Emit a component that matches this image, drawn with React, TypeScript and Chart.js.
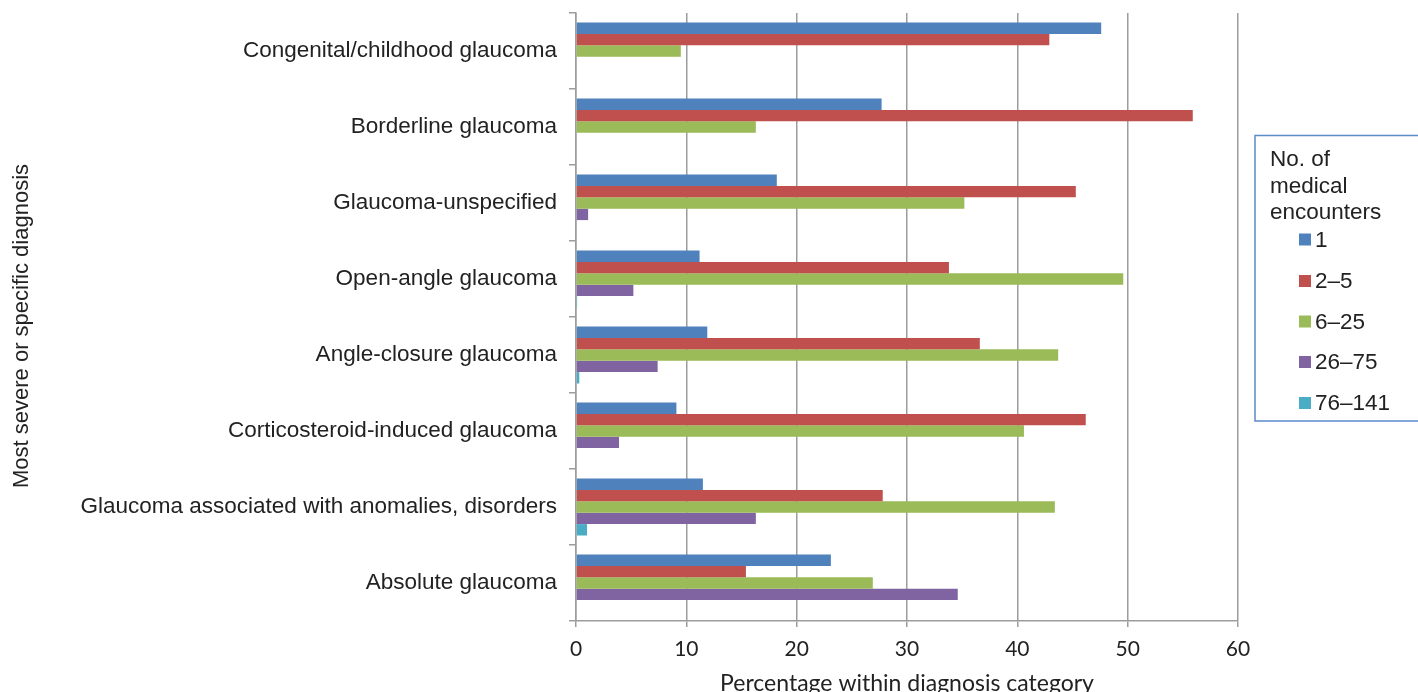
import { useEffect, useRef } from "react";
import { Chart, registerables } from "chart.js";

Chart.register(...registerables);

// Diagnosis categories, listed top to bottom
const diagnoses = [
  "Congenital/childhood glaucoma",
  "Borderline glaucoma",
  "Glaucoma-unspecified",
  "Open-angle glaucoma",
  "Angle-closure glaucoma",
  "Corticosteroid-induced glaucoma",
  "Glaucoma associated with anomalies, disorders",
  "Absolute glaucoma",
];

// Number-of-encounters groups (series)
const encounterGroups = ["1", "2–5", "6–25", "26–75", "76–141"];

// Percentage within diagnosis category, per encounter group
const encounters1 = [47.6, 27.7, 18.2, 11.2, 11.9, 9.1, 11.5, 23.1];
const encounters2to5 = [42.9, 55.9, 45.3, 33.8, 36.6, 46.2, 27.8, 15.4];
const encounters6to25 = [9.5, 16.3, 35.2, 49.6, 43.7, 40.6, 43.4, 26.9];
const encounters26to75 = [0, 0, 1.1, 5.2, 7.4, 3.9, 16.3, 34.6];
const encounters76to141 = [0, 0, 0, 0.1, 0.3, 0, 1.0, 0];

const xTicks = [0, 10, 20, 30, 40, 50, 60];

const seriesColors = ["#4F81BD", "#C0504D", "#9BBB59", "#8064A2", "#4BACC6"];

const TEXT = "#222222";
const GRID = "#9c9c9c";
const SANS = "'Liberation Sans', Arial, sans-serif";
const AXIS_FONT = "Lato, 'Open Sans', sans-serif";
const Y_TITLE = "Most severe or specific diagnosis";

// Rotated y-axis title plus a boxed legend with a three-line title
const sideAnnotations = {
  id: "sideAnnotations",
  afterDraw(chart: any) {
    const ctx = chart.ctx as CanvasRenderingContext2D;
    ctx.save();

    // y-axis title
    ctx.save();
    ctx.translate(22, 326);
    ctx.rotate(-Math.PI / 2);
    ctx.fillStyle = TEXT;
    ctx.font = `22px ${SANS}`;
    ctx.textAlign = "center";
    ctx.textBaseline = "middle";
    ctx.fillText(Y_TITLE, 0, 0);
    ctx.restore();

    // legend box
    ctx.strokeStyle = "#5B8BC9";
    ctx.lineWidth = 1.5;
    ctx.strokeRect(1255, 135.5, 200, 285.5);

    ctx.fillStyle = TEXT;
    ctx.font = `22.5px ${SANS}`;
    ctx.textAlign = "left";
    ctx.textBaseline = "alphabetic";
    const titleLines = ["No. of", "medical", "encounters"];
    titleLines.forEach((line, i) => ctx.fillText(line, 1270, 166 + i * 26.5));

    const rowY = [239.5, 281, 321.5, 362, 403];
    chart.data.datasets.forEach((ds: any, i: number) => {
      const y = rowY[i];
      ctx.fillStyle = ds.backgroundColor;
      ctx.fillRect(1299, y - 6, 12, 12);
      ctx.fillStyle = TEXT;
      ctx.textBaseline = "middle";
      ctx.fillText(ds.label, 1315, y + 1);
    });
    ctx.restore();
  },
};

export default function App() {
  const canvasRef = useRef<HTMLCanvasElement | null>(null);

  useEffect(() => {
    const canvas = canvasRef.current;
    if (!canvas) return;
    const seriesValues = [
      encounters1,
      encounters2to5,
      encounters6to25,
      encounters26to75,
      encounters76to141,
    ];
    const chart = new Chart(canvas, {
      type: "bar",
      data: {
        labels: diagnoses,
        datasets: encounterGroups.map((label, i) => ({
          label,
          data: seriesValues[i],
          backgroundColor: seriesColors[i],
          borderWidth: 0,
          categoryPercentage: 0.75,
          barPercentage: 1,
        })),
      },
      options: {
        indexAxis: "y",
        animation: false,
        responsive: false,
        layout: { padding: { left: 0, right: 180, top: 13, bottom: 0 } },
        plugins: {
          legend: { display: false },
          tooltip: { enabled: false },
        },
        scales: {
          x: {
            type: "linear",
            min: 0,
            max: 60,
            afterBuildTicks: (scale: any) => {
              scale.ticks = xTicks.map((v) => ({ value: v }));
            },
            afterFit: (scale: any) => {
              scale.height = 71;
            },
            ticks: {
              color: TEXT,
              font: { family: AXIS_FONT, size: 21 },
              padding: 10,
            },
            grid: {
              color: GRID,
              lineWidth: 1.5,
              drawTicks: true,
              tickLength: 6,
            },
            border: { color: GRID, width: 1.5 },
            title: {
              display: true,
              text: "Percentage within diagnosis category",
              color: TEXT,
              font: { family: AXIS_FONT, size: 23 },
              padding: { top: 0, bottom: -5 },
            },
          },
          y: {
            type: "category",
            afterFit: (scale: any) => {
              scale.width = 576;
              scale.paddingTop = 0;
              scale.paddingBottom = 0;
            },
            ticks: {
              color: TEXT,
              font: { family: SANS, size: 22.5 },
              padding: 12,
            },
            grid: {
              offset: true,
              drawOnChartArea: false,
              drawTicks: true,
              tickLength: 7,
              color: GRID,
              lineWidth: 1.5,
            },
            border: { color: GRID, width: 1.5 },
            title: { display: false },
          },
        },
      },
      plugins: [sideAnnotations],
    });
    return () => chart.destroy();
  }, []);

  return (
    <div
      style={{
        position: "absolute",
        left: 0,
        top: 0,
        width: 1418,
        height: 692,
        background: "#ffffff",
      }}
    >
      <canvas ref={canvasRef} width={1418} height={692} />
    </div>
  );
}
